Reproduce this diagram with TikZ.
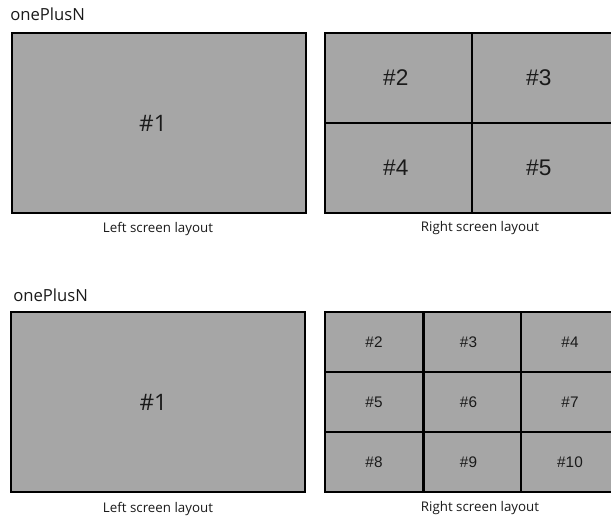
\documentclass[tikz,border=0pt]{standalone}
\usepackage{fontspec}
\setmainfont{Open Sans}
\newfontfamily\cellfont{Liberation Sans}
\definecolor{screengray}{HTML}{A6A6A6}
\definecolor{inkgray}{HTML}{1A1A1A}
\begin{document}
\begin{tikzpicture}
      [
      x=0.75pt, y=-0.75pt,
      title/.style={anchor=west, inner sep=0pt, text=inkgray, font=\fontsize{12.5}{14}\selectfont},
      caption/.style={inner sep=0pt, text=inkgray, font=\fontsize{10}{12}\selectfont},
      screen/.style={rectangle, draw, fill=screengray, line width=1.5pt, inner sep=0pt, text=inkgray,
        minimum width=220.5pt, minimum height=135pt, font=\fontsize{17}{19}\selectfont},
      bigcell/.style={rectangle, draw, fill=screengray, line width=1.5pt, inner sep=0pt, text=inkgray,
        minimum width=110.25pt, minimum height=67.5pt, font=\cellfont\fontsize{17}{19}\selectfont},
      smallcell/.style={rectangle, draw, fill=screengray, line width=1.5pt, inner sep=0pt, text=inkgray,
        minimum width=73.25pt, minimum height=45pt, font=\cellfont\fontsize{11.5}{13}\selectfont}
      ]
      \useasboundingbox (0,0) rectangle (611,518);
      % first layout
      \node (titleA) at (10,14) [title] {onePlusN};
      \node (leftA) at (159,123) [screen] {\#1\kern9pt};
      \node (c2) at (398.5,78) [bigcell] {\#2\kern4pt};
      \node (c3) at (545.5,78) [bigcell] {\#3\kern10pt};
      \node (c4) at (398.5,168) [bigcell] {\#4\kern4pt};
      \node (c5) at (545.5,168) [bigcell] {\#5\kern10pt};
      \node (capLA) at (158,229) [caption] {Left screen layout};
      \node (capRA) at (480,228) [caption] {Right screen layout};
      % second layout
      \node (titleB) at (13,295) [title] {onePlusN};
      \node (leftB) at (158,402) [screen] {\#1\kern7pt};
      \node (d2) at (374,342) [smallcell] {\#2};
      \node (d3) at (472.5,342) [smallcell] {\#3\kern6pt};
      \node (d4) at (570,342) [smallcell] {\#4};
      \node (d5) at (374,402) [smallcell] {\#5};
      \node (d6) at (472.5,402) [smallcell] {\#6\kern6pt};
      \node (d7) at (570,402) [smallcell] {\#7};
      \node (d8) at (374,462) [smallcell] {\#8};
      \node (d9) at (472.5,462) [smallcell] {\#9\kern6pt};
      \node (d10) at (570,462) [smallcell] {\#10};
      \node (capLB) at (158,509) [caption] {Left screen layout};
      \node (capRB) at (480,508) [caption] {Right screen layout};
    \end{tikzpicture}
\end{document}
